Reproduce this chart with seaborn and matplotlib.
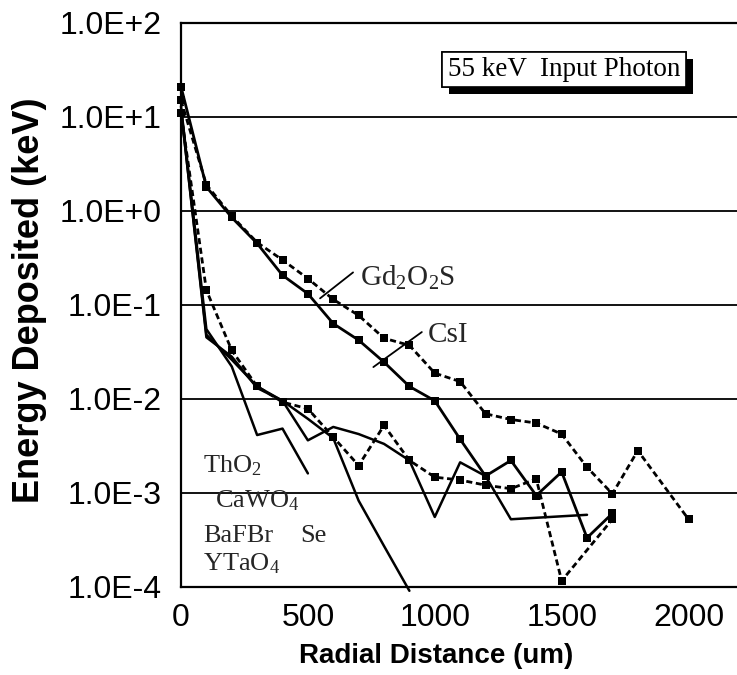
import numpy as np
import pandas as pd
import matplotlib
matplotlib.use("Agg")
import matplotlib.pyplot as plt
import matplotlib.patheffects as pe
from matplotlib.ticker import FixedLocator, FuncFormatter, MultipleLocator, LogLocator, NullFormatter
import seaborn as sns

# ---------------- data ----------------
gd_x = [0, 100, 200, 300, 400, 500, 600, 700, 800, 900, 1000, 1100, 1200, 1300, 1400, 1500, 1600, 1700, 1800, 2000]
gd_y = [15, 1.9, 0.88, 0.46, 0.30, 0.19, 0.114, 0.077, 0.044, 0.037, 0.0187, 0.0152, 0.0069, 0.0060, 0.0055, 0.0042, 0.00186, 0.00097, 0.0028, 0.00052]

csi_x = [0, 100, 200, 300, 400, 500, 600, 700, 800, 900, 1000, 1100, 1200, 1300, 1400, 1500, 1600, 1700]
csi_y = [21, 1.8, 0.85, 0.45, 0.206, 0.131, 0.063, 0.042, 0.0245, 0.0135, 0.0095, 0.0037, 0.0015, 0.0022, 0.00093, 0.00166, 0.00033, 0.00060]

bafbr_x = [0, 100, 200, 300, 400, 500, 600, 700, 800, 900, 1000, 1100, 1200, 1300, 1400, 1500, 1700]
bafbr_y = [11, 0.143, 0.0327, 0.0135, 0.0092, 0.0078, 0.0039, 0.00194, 0.0052, 0.0022, 0.00146, 0.00136, 0.0012, 0.0011, 0.0014, 0.000115, 0.00052]

tho2_x = [0, 100, 200, 300, 400, 500]
tho2_y = [13, 0.055, 0.022, 0.0041, 0.0048, 0.0016]

cawo4_x = [0, 100, 200, 300, 400, 500, 600, 700, 800, 900, 1000, 1100, 1200, 1300, 1600]
cawo4_y = [12, 0.048, 0.026, 0.0135, 0.0095, 0.0036, 0.0050, 0.0042, 0.0033, 0.0022, 0.00055, 0.0021, 0.0015, 0.00052, 0.00058]

se_x = [0, 100, 200, 300, 400, 500, 600, 700, 800, 900]
se_y = [12, 0.045, 0.028, 0.013, 0.0095, 0.0061, 0.0038, 0.00082, 0.00027, 0.00009]

ytick_vals = [1e-4, 1e-3, 1e-2, 1e-1, 1e0, 1e1, 1e2]
ytick_labels = ["1.0E-4", "1.0E-3", "1.0E-2", "1.0E-1", "1.0E+0", "1.0E+1", "1.0E+2"]
xtick_vals = [0, 500, 1000, 1500, 2000]

# ---------------- styling ----------------
sns.set_theme(style="white")
plt.rcParams["font.family"] = ["Liberation Sans", "DejaVu Sans"]
plt.rcParams["mathtext.fontset"] = "custom"
plt.rcParams["mathtext.rm"] = "Liberation Serif"
plt.rcParams["mathtext.it"] = "Liberation Serif:italic"

fig = plt.figure(figsize=(7.37, 6.75), dpi=100)
ax = fig.add_axes([181 / 737, (675 - 586.5) / 675, (737 - 181) / 737, 563.5 / 675])

def draw(xs, ys, ls, marker, lw):
    df = pd.DataFrame({"x": xs, "y": ys})
    sns.lineplot(data=df, x="x", y="y", ax=ax, color="black", linestyle=ls,
                 marker=marker, markersize=6 if marker else 0, markeredgewidth=0,
                 linewidth=lw, clip_on=False, estimator=None, sort=False)

draw(gd_x, gd_y, (0, (2.2, 1.3)), "s", 2.0)
draw(csi_x, csi_y, "-", "s", 2.0)
draw(bafbr_x, bafbr_y, (0, (2.2, 1.3)), "s", 2.0)
draw(tho2_x, tho2_y, "-", None, 1.8)
draw(cawo4_x, cawo4_y, "-", None, 1.8)
draw(se_x, se_y, "-", None, 1.8)

ax.set_yscale("log")
ax.set_ylim(1e-4, 1e2)
ax.set_xlim(0, 2191)

ax.yaxis.set_major_locator(FixedLocator(ytick_vals))
ax.yaxis.set_major_formatter(FuncFormatter(lambda v, p: ytick_labels[ytick_vals.index(v)] if v in ytick_vals else ""))
ax.yaxis.set_minor_locator(LogLocator(base=10, subs=np.arange(2, 10), numticks=20))
ax.yaxis.set_minor_formatter(NullFormatter())
ax.xaxis.set_major_locator(FixedLocator(xtick_vals))
ax.xaxis.set_minor_locator(MultipleLocator(100))

ax.tick_params(axis="both", which="major", direction="in", length=9, width=1.2, labelsize=23, colors="black")
ax.tick_params(axis="both", which="minor", direction="in", length=5, width=1.0)
ax.tick_params(axis="y", which="major", pad=14)
ax.tick_params(axis="x", which="major", pad=12)

ax.grid(False)
for v in ytick_vals[1:-1]:
    ax.axhline(v, color="black", linewidth=1.3, zorder=0.5)

for s in ["left", "bottom", "top"]:
    ax.spines[s].set_color("black")
    ax.spines[s].set_linewidth(1.6)
ax.spines["right"].set_visible(False)

ax.set_xlabel("Radial Distance (um)", fontsize=20, fontweight="bold", color="black")
ax.xaxis.set_label_coords(0.459, -0.100)
ax.set_ylabel("Energy Deposited (keV)", fontsize=26, fontweight="bold", color="black")
ax.yaxis.set_label_coords(-0.241, 0.508)

serif = ["Liberation Serif", "DejaVu Serif"]
# boxed title with shadow
t = ax.text(0.689, 0.9175, "55 keV  Input Photon", transform=ax.transAxes, ha="center", va="center",
            fontsize=19.5, family=serif, color="black",
            bbox=dict(boxstyle="square,pad=0.2", fc="white", ec="black", lw=1.2))
t.get_bbox_patch().set_path_effects([pe.withSimplePatchShadow(offset=(5, -5), shadow_rgbFace="black", alpha=1.0), pe.Normal()])

# curve labels with leaders
ax.plot([548, 678], [0.117, 0.221], color="black", lw=1.3)
ax.text(705, 0.161, r"Gd$_\mathrm{2}$O$_\mathrm{2}$S", fontsize=21, family=serif, va="baseline", ha="left")
ax.plot([758, 949], [0.0217, 0.0512], color="black", lw=1.3)
ax.text(973, 0.040, "CsI", fontsize=21, family=serif, va="baseline", ha="left")

ax.text(87, 0.00165, r"ThO$_\mathrm{2}$", fontsize=19, family=serif, va="baseline", ha="left")
ax.text(134, 0.000697, r"CaWO$_\mathrm{4}$", fontsize=19, family=serif, va="baseline", ha="left")
ax.text(87, 0.000295, "BaFBr", fontsize=19, family=serif, va="baseline", ha="left")
ax.text(469, 0.000295, "Se", fontsize=19, family=serif, va="baseline", ha="left")
ax.text(87, 0.000147, r"YTaO$_\mathrm{4}$", fontsize=19, family=serif, va="baseline", ha="left")

fig.savefig("out.png", dpi=100)
